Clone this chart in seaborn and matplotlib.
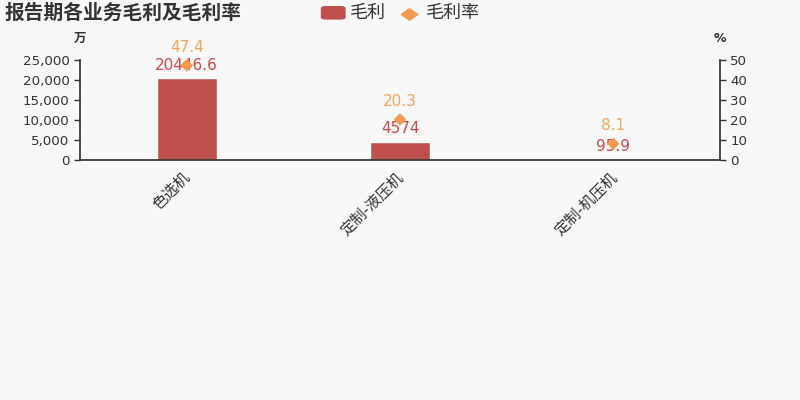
import matplotlib
matplotlib.use("Agg")
from matplotlib import pyplot as plt
from matplotlib.lines import Line2D
from matplotlib.patches import FancyBboxPatch
from matplotlib.transforms import ScaledTranslation
import seaborn as sns
import pandas as pd

sns.set_theme(style="white")
plt.rcParams['font.family'] = ['DejaVu Sans', 'Noto Sans CJK SC']

categories = ['色选机', '定制-液压机', '定制-机压机']
gross_profit = [20446.6, 4574, 95.9]
gross_margin = [47.4, 20.3, 8.1]
profit_labels = ['20446.6', '4574', '95.9']
margin_labels = ['47.4', '20.3', '8.1']

BAR_COLOR = '#c0504e'
DOT_COLOR = '#f5994e'
RATE_TEXT = '#f7a55c'
BG = '#f8f8f8'
FLAT_DIAMOND = [(-1.45, 0), (0, 1), (1.45, 0), (0, -1), (-1.45, 0)]

df = pd.DataFrame({'cat': categories, 'profit': gross_profit, 'margin': gross_margin})

fig = plt.figure(figsize=(8, 4), dpi=100, facecolor=BG)
ax = fig.add_axes([0.1, 0.6, 0.8, 0.25], facecolor=BG)
sns.barplot(data=df, x='cat', y='profit', color=BAR_COLOR, saturation=1, width=0.28, ax=ax)
ax.set_ylim(0, 25000)
ax.set_xlim(-0.5, 2.5)
ax.set_yticks([0, 5000, 10000, 15000, 20000, 25000])
ax.set_yticklabels(['0', '5,000', '10,000', '15,000', '20,000', '25,000'])
ax.set_xlabel('')
ax.set_ylabel('')

ax2 = ax.twinx()
sns.scatterplot(data=df, x='cat', y='margin', marker='D', s=40, color=DOT_COLOR,
                edgecolor='none', ax=ax2, zorder=5)
ax2.set_ylim(0, 50)
ax2.set_yticks([0, 10, 20, 30, 40, 50])
ax2.set_ylabel('')
ax2.set_xlim(-0.5, 2.5)

for a in (ax, ax2):
    a.spines['top'].set_visible(False)
    for s in ('left', 'right', 'bottom'):
        a.spines[s].set_color('#333333')
    a.tick_params(colors='#333333', labelsize=9.6, length=4, width=1)

ax.spines['right'].set_visible(False)
ax2.spines['left'].set_visible(False)
ax2.spines['bottom'].set_visible(False)

ax.set_xticks([0, 1, 2])
ax.set_xticklabels(categories, rotation=45, ha='right', rotation_mode='anchor',
                   fontsize=11, color='#333333')
ax.set_xticks([-0.5, 0.5, 1.5, 2.5], minor=True)
ax.tick_params(axis='x', which='major', length=0, pad=6)
ax.tick_params(axis='x', which='minor', length=4, color='#333333')
ax.tick_params(axis='y', direction='out')
ax2.tick_params(axis='y', direction='out')
shift = ScaledTranslation(-4 / 100, -1 / 100, fig.dpi_scale_trans)
for lab in ax.get_xticklabels():
    lab.set_transform(lab.get_transform() + shift)

for i, (v, lab) in enumerate(zip(gross_profit, profit_labels)):
    ax.annotate(lab, (i, v), xytext=(0, 4), textcoords='offset points',
                ha='center', va='bottom', color='#d0464a', fontsize=11)
for i, (v, lab) in enumerate(zip(gross_margin, margin_labels)):
    ax2.annotate(lab, (i, v), xytext=(0, 7.5), textcoords='offset points',
                 ha='center', va='bottom', color=RATE_TEXT, fontsize=11)

fig.text(0.1, 0.905, '万', ha='center', va='center', fontsize=9, fontweight='bold', color='#333333')
fig.text(0.9, 0.905, '%', ha='center', va='center', fontsize=9, fontweight='bold', color='#333333')
fig.text(0.006, 0.968, '报告期各业务毛利及毛利率', ha='left', va='center', fontsize=14.2,
         fontweight='bold', color='#333333')

box = FancyBboxPatch((0.401, 0.951), 0.031, 0.034, boxstyle='round,pad=0,rounding_size=0.006',
                     transform=fig.transFigure, facecolor=BAR_COLOR, edgecolor='none')
fig.patches.append(box)
fig.text(0.437, 0.968, '毛利', ha='left', va='center', fontsize=13, color='#333333')
fig.add_artist(Line2D([0.511], [0.966], marker=FLAT_DIAMOND, markersize=12, color=DOT_COLOR,
                      transform=fig.transFigure, linestyle='none'))
fig.text(0.533, 0.968, '毛利率', ha='left', va='center', fontsize=13, color='#333333')

fig.savefig('out.png', dpi=100, facecolor=BG)
